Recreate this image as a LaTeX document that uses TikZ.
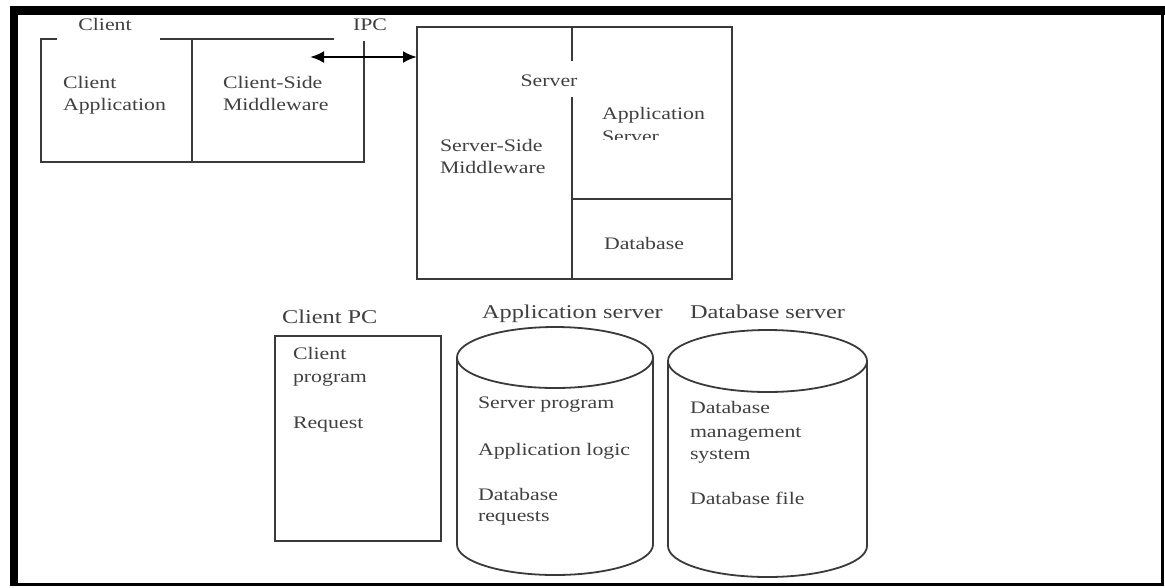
\documentclass[tikz,border=0pt]{standalone}
\usepackage{fontspec}
\setmainfont{Liberation Serif}
\newfontfamily\txtfont[FakeStretch=1.24]{Liberation Serif}
\newfontfamily\labfont[FakeStretch=1.25]{Liberation Serif}
\usetikzlibrary{arrows.meta}
\definecolor{ink}{HTML}{3A3A3A}
\definecolor{txtc}{HTML}{404040}

\begin{document}
\begin{tikzpicture}[x=1pt,y=-1pt,
  txt/.style={anchor=base west, inner sep=0pt, outer sep=0pt, text=txtc,
              font=\txtfont\fontsize{17.6}{23}\selectfont},
  ctxt/.style={txt, anchor=base},
  lab/.style={txt, font=\labfont\fontsize{19.5}{23}\selectfont},
  wire/.style={draw=ink, line width=1.8pt},
  ipcarrow/.style={draw=black, line width=2.6pt,
              {Latex[length=14pt,width=12pt]}-{Latex[length=14pt,width=12pt]}}]

\useasboundingbox (0,0) rectangle (1165,587);

% outer frame: heavy top and left edges, thin right and bottom edges
\fill[black] (10,6) rectangle (1165,15);
\fill[black] (10,6) rectangle (18,586);
\draw[black, line width=2.4pt] (1162.5,15) -- (1162.5,585);
\draw[black, line width=2.4pt] (18,584.5) -- (1163.5,584.5);

% ---------------- client block ----------------
\coordinate (cTL) at (41,39);
\coordinate (cBL) at (41,162);
\coordinate (cBR) at (364,162);
\coordinate (cTR) at (364,41);
\draw[wire] (57,39) -- (cTL) -- (cBL) -- (cBR) -- (cTR);
\draw[wire] (160,39) -- (334,39);
\draw[wire] (192,39) -- (192,162);

\node[ctxt] (clientlbl) at (105,30) {Client};
\node[ctxt] (ipclbl) at (370,30) {IPC};
\node[txt] (ca1) at (63,88) {Client};
\node[txt] (ca2) at (63,110) {Application};
\node[txt] (cm1) at (223,88) {Client-Side};
\node[txt] (cm2) at (223,110) {Middleware};

% ---------------- server block ----------------
\node[wire, draw, anchor=north west, inner sep=0pt, outer sep=0pt,
      minimum width=315pt, minimum height=252pt] (srv) at (417,27) {};
\draw[wire] (572,27) -- (572,61);
\draw[wire] (572,97) -- (572,279);
\draw[wire] (572,199) -- (732,199);

\node[ctxt] (srvlbl) at (549,86) {Server};
\node[txt] (as1) at (602,119) {Application};
\begin{scope}
  \clip (574,120) rectangle (730,139.5);
  \node[txt] (as2) at (602,142) {Server};
\end{scope}
\node[txt] (sm1) at (440,151) {Server-Side};
\node[txt] (sm2) at (440,173) {Middleware};
\node[txt] (dblbl) at (604,249) {Database};

% IPC link between the middleware layers
\coordinate (ipcL) at (310,57);
\draw[ipcarrow] (ipcL) -- (srv.west |- ipcL);

% ---------------- client PC ----------------
\node[lab] (pclbl) at (282,323) {Client PC};
\draw[wire] (275,336) rectangle (441,541);
\node[txt] (pc1) at (293,359) {Client};
\node[txt] (pc2) at (293,382) {program};
\node[txt] (pc3) at (293,428) {Request};

% ---------------- application server cylinder ----------------
\node[lab] (aslbl) at (482,318) {Application server};
\draw[wire] (555,357.5) ellipse [x radius=98pt, y radius=30.5pt];
\draw[wire] (457,357.5) -- (457,544.5)
  arc[start angle=180, end angle=360, x radius=98pt, y radius=30.5pt]
  -- (653,357.5);
\node[txt] (ap1) at (478,408) {Server program};
\node[txt] (ap2) at (478,455) {Application logic};
\node[txt] (ap3) at (478,500) {Database};
\node[txt] (ap4) at (478,521) {requests};

% ---------------- database server cylinder ----------------
\node[lab] (dslbl) at (690,318) {Database server};
\draw[wire] (767.5,361) ellipse [x radius=99.5pt, y radius=31pt];
\draw[wire] (668,361) -- (668,546)
  arc[start angle=180, end angle=360, x radius=99.5pt, y radius=31pt]
  -- (867,361);
\node[txt] (db1) at (690,413) {Database};
\node[txt] (db2) at (690,437) {management};
\node[txt] (db3) at (690,459) {system};
\node[txt] (db4) at (690,504) {Database file};

\end{tikzpicture}
\end{document}
